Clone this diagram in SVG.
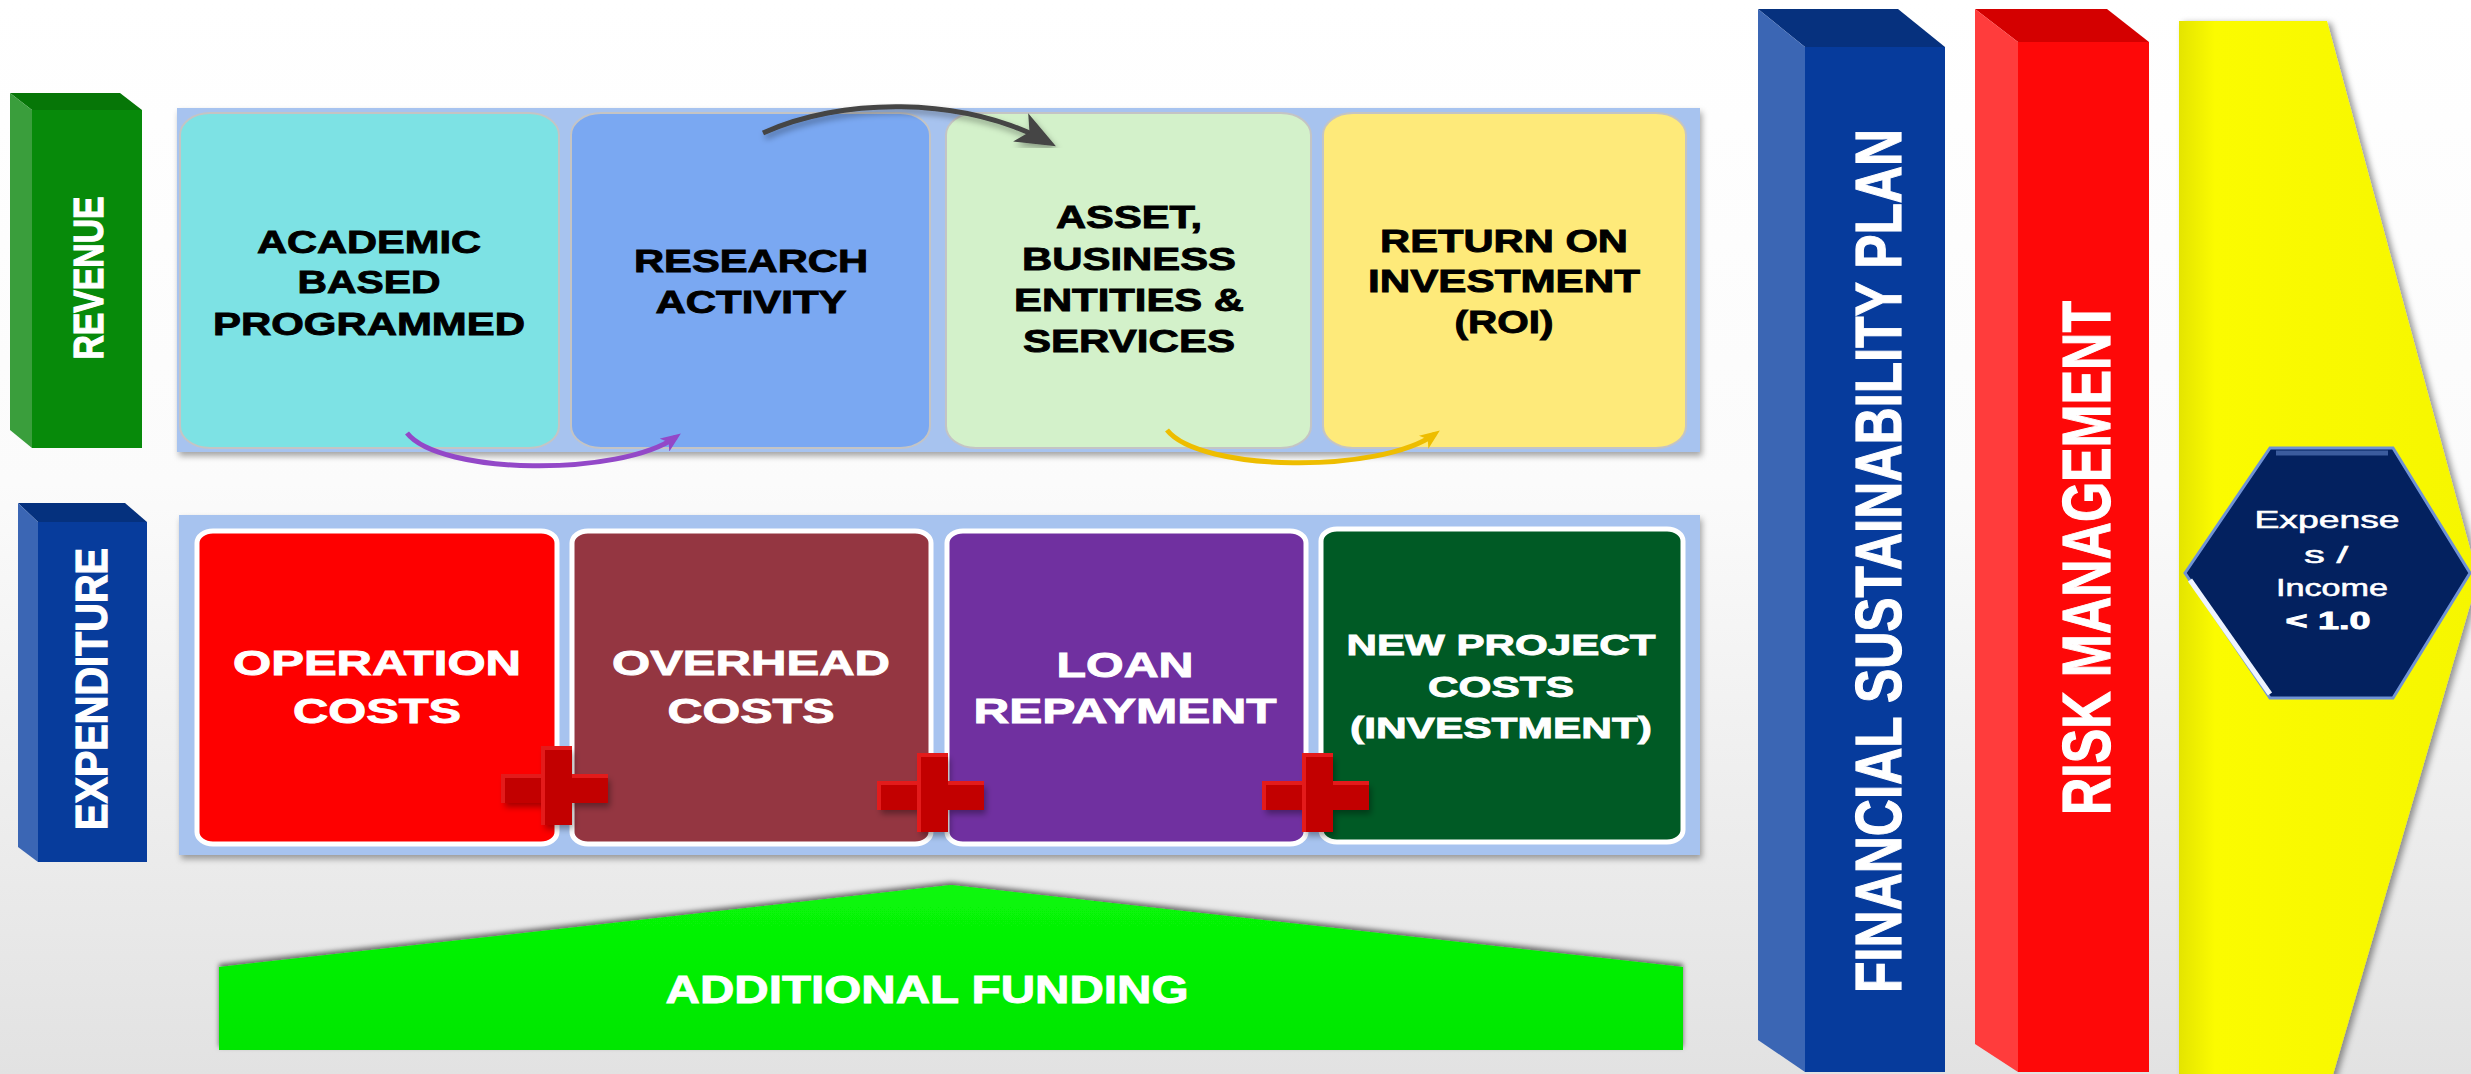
<svg xmlns="http://www.w3.org/2000/svg" width="2471" height="1074" viewBox="0 0 2471 1074">
<style>
.t{font-family:"Liberation Sans",Arial,Helvetica,sans-serif;font-weight:bold;text-anchor:middle}
.blk{fill:#000;stroke:#000;stroke-width:0.9}
.wht{fill:#fff;stroke:#fff;stroke-width:0.9}
.rc{stroke:#c4c4c4;stroke-width:2}
.ec{stroke:#ffffff;stroke-width:5}
.reg{font-weight:normal;stroke-width:0.6}
</style>
<defs>
<linearGradient id="bg" x1="0" y1="0" x2="0" y2="1">
<stop offset="0" stop-color="#ffffff"/>
<stop offset="0.45" stop-color="#fbfbfb"/>
<stop offset="1" stop-color="#e2e2e2"/>
</linearGradient>
<linearGradient id="yel" x1="0" y1="0" x2="1" y2="0">
<stop offset="0" stop-color="#e4e400"/>
<stop offset="0.12" stop-color="#fbfb00"/>
<stop offset="1" stop-color="#f6f600"/>
</linearGradient>
<linearGradient id="grn" x1="0" y1="0" x2="0" y2="1">
<stop offset="0" stop-color="#08f808"/>
<stop offset="1" stop-color="#00e600"/>
</linearGradient>
<filter id="sh" x="-10%" y="-10%" width="120%" height="125%">
<feDropShadow dx="2" dy="4" stdDeviation="3" flood-color="#000" flood-opacity="0.35"/>
</filter>
<filter id="shUp" x="-5%" y="-20%" width="110%" height="140%">
<feDropShadow dx="0" dy="-3" stdDeviation="2.5" flood-color="#000" flood-opacity="0.55"/>
</filter>
<filter id="shR" x="-10%" y="-5%" width="125%" height="110%">
<feDropShadow dx="4" dy="2" stdDeviation="3" flood-color="#000" flood-opacity="0.4"/>
</filter>
<marker id="mPur" viewBox="0 0 20 16" refX="14" refY="8" markerWidth="20" markerHeight="16" orient="auto" markerUnits="userSpaceOnUse">
<path d="M0,0 L20,8 L0,16 L5,8 z" fill="#9348c8"/>
</marker>
<marker id="mYel" viewBox="0 0 20 16" refX="14" refY="8" markerWidth="20" markerHeight="16" orient="auto" markerUnits="userSpaceOnUse">
<path d="M0,0 L20,8 L0,16 L5,8 z" fill="#eebd00"/>
</marker>
<marker id="mGry" viewBox="0 0 40 32" refX="31" refY="16" markerWidth="40" markerHeight="32" orient="auto" markerUnits="userSpaceOnUse">
<path d="M0,0 L40,16 L0,32 L10,16 z" fill="#444"/>
</marker>
<path id="plus" d="M-14,-40 H15 V-12 H51 V15 H15 V37 H-14 V15 H-54 V-12 H-14 Z"/>
</defs>

<rect x="0" y="0" width="2471" height="1074" fill="url(#bg)"/>

<!-- REVENUE side box -->
<g id="revenue-label">
<polygon points="10,93 120,93 142,110 32,110" fill="#067607"/>
<polygon points="10,93 32,110 32,448 10,430" fill="#3a9e3c"/>
<rect x="32" y="110" width="110" height="338" fill="#078a0a"/>
<text class="t wht" font-size="32" textLength="163" lengthAdjust="spacingAndGlyphs" transform="translate(88,278) scale(1.3,1) rotate(-90)" x="0" y="11.5">REVENUE</text>
</g>

<!-- EXPENDITURE side box -->
<g id="expenditure-label">
<polygon points="18,503 125,503 147,522 38,522" fill="#05317e"/>
<polygon points="18,503 38,522 38,862 18,847" fill="#3b66b4"/>
<rect x="38" y="522" width="109" height="340" fill="#073c9c"/>
<text class="t wht" font-size="34" textLength="282" lengthAdjust="spacingAndGlyphs" transform="translate(91,689) scale(1.3,1) rotate(-90)" x="0" y="12.2">EXPENDITURE</text>
</g>

<!-- Revenue panel -->
<g id="revenue-panel">
<rect x="177" y="108" width="1523" height="344" fill="#a7c3ef" filter="url(#sh)"/>
</g>
<g id="academic">
<rect class="rc" x="180" y="113" width="379" height="335" rx="30" ry="22" fill="#7de2e4"/>
<text class="t blk" font-size="32"><tspan x="369" y="253" textLength="224" lengthAdjust="spacingAndGlyphs">ACADEMIC</tspan><tspan x="369" y="293" textLength="143" lengthAdjust="spacingAndGlyphs">BASED</tspan><tspan x="369" y="335" textLength="312" lengthAdjust="spacingAndGlyphs">PROGRAMMED</tspan></text>
</g>
<g id="research">
<rect class="rc" x="571" y="113" width="359" height="335" rx="30" ry="22" fill="#7aa8f2"/>
<text class="t blk" font-size="32"><tspan x="751" y="272" textLength="234" lengthAdjust="spacingAndGlyphs">RESEARCH</tspan><tspan x="751" y="313" textLength="191" lengthAdjust="spacingAndGlyphs">ACTIVITY</tspan></text>
</g>
<g id="asset">
<rect class="rc" x="946" y="113" width="365" height="335" rx="30" ry="22" fill="#d3f1ca"/>
<text class="t blk" font-size="32"><tspan x="1129" y="228" textLength="146" lengthAdjust="spacingAndGlyphs">ASSET,</tspan><tspan x="1129" y="270" textLength="214" lengthAdjust="spacingAndGlyphs">BUSINESS</tspan><tspan x="1129" y="311" textLength="230" lengthAdjust="spacingAndGlyphs">ENTITIES &amp;</tspan><tspan x="1129" y="352" textLength="212" lengthAdjust="spacingAndGlyphs">SERVICES</tspan></text>
</g>
<g id="roi">
<rect class="rc" x="1323" y="113" width="363" height="335" rx="30" ry="22" fill="#feea7a"/>
<text class="t blk" font-size="32"><tspan x="1504" y="252" textLength="248" lengthAdjust="spacingAndGlyphs">RETURN ON</tspan><tspan x="1504" y="292" textLength="272" lengthAdjust="spacingAndGlyphs">INVESTMENT</tspan><tspan x="1504" y="333" textLength="99" lengthAdjust="spacingAndGlyphs">(ROI)</tspan></text>
</g>

<!-- Expenditure panel -->
<g id="expenditure-panel">
<rect x="179" y="515" width="1521" height="340" fill="#a7c3ef" filter="url(#sh)"/>
</g>
<g id="operation">
<rect class="ec" x="197" y="531" width="360" height="313" rx="16" ry="12" fill="#fe0000"/>
<text class="t wht" font-size="35"><tspan x="377" y="675" textLength="288" lengthAdjust="spacingAndGlyphs">OPERATION</tspan><tspan x="377" y="723" textLength="168" lengthAdjust="spacingAndGlyphs">COSTS</tspan></text>
</g>
<g id="overhead">
<rect class="ec" x="572" y="531" width="359" height="313" rx="16" ry="12" fill="#943641"/>
<text class="t wht" font-size="35"><tspan x="751" y="675" textLength="278" lengthAdjust="spacingAndGlyphs">OVERHEAD</tspan><tspan x="751" y="723" textLength="167" lengthAdjust="spacingAndGlyphs">COSTS</tspan></text>
</g>
<g id="loan">
<rect class="ec" x="947" y="531" width="359" height="313" rx="16" ry="12" fill="#7030a0"/>
<text class="t wht" font-size="35"><tspan x="1125" y="677" textLength="137" lengthAdjust="spacingAndGlyphs">LOAN</tspan><tspan x="1125" y="723" textLength="303" lengthAdjust="spacingAndGlyphs">REPAYMENT</tspan></text>
</g>
<g id="newproject">
<rect class="ec" x="1321" y="529" width="362" height="313" rx="16" ry="12" fill="#005a25"/>
<text class="t wht" font-size="30"><tspan x="1501" y="655" textLength="309" lengthAdjust="spacingAndGlyphs">NEW PROJECT</tspan><tspan x="1501" y="697" textLength="146" lengthAdjust="spacingAndGlyphs">COSTS</tspan><tspan x="1501" y="738" textLength="302" lengthAdjust="spacingAndGlyphs">(INVESTMENT)</tspan></text>
</g>

<!-- plus signs -->
<g id="plus1" transform="translate(557,788)">
<use href="#plus" fill="#c20000" filter="url(#sh)"/>
<path d="M-14,37 V-40 H15 M-54,15 V-12 H-14 M15,-12 H51" fill="none" stroke="#e31b1b" stroke-width="4"/>
</g>
<g id="plus2" transform="translate(933,795)">
<use href="#plus" fill="#c20000" filter="url(#sh)"/>
<path d="M-14,37 V-40 H15 M-54,15 V-12 H-14 M15,-12 H51" fill="none" stroke="#e31b1b" stroke-width="4"/>
</g>
<g id="plus3" transform="translate(1318,795)">
<use href="#plus" fill="#c20000" filter="url(#sh)"/>
<path d="M-14,37 V-40 H15 M-54,15 V-12 H-14 M15,-12 H51" fill="none" stroke="#e31b1b" stroke-width="4"/>
</g>

<!-- connectors -->
<g id="connectors" fill="none">
<path d="M407,433 C440,475 620,477 676,437" stroke="#9348c8" stroke-width="5" marker-end="url(#mPur)"/>
<path d="M1167,430 C1200,472 1380,474 1435,434" stroke="#eebd00" stroke-width="5" marker-end="url(#mYel)"/>
<path d="M763,133 C840,98 960,95 1048,142" stroke="#444" stroke-width="5" marker-end="url(#mGry)" filter="url(#sh)"/>
</g>

<!-- Additional funding -->
<g id="additional-funding">
<polygon points="219,1050 219,967 951,885 1683,967 1683,1050" fill="url(#grn)" filter="url(#shUp)"/>
<text class="t wht" font-size="38" x="927" y="1003" textLength="523" lengthAdjust="spacingAndGlyphs">ADDITIONAL FUNDING</text>
</g>

<!-- Financial sustainability plan -->
<g id="financial-sustainability-plan">
<polygon points="1758,9 1898,9 1945,47 1805,47" fill="#06317e"/>
<polygon points="1758,9 1805,47 1805,1072 1758,1040" fill="#3b66b4"/>
<rect x="1805" y="47" width="140" height="1025" fill="#063b9c"/>
<text class="t wht" font-size="50" textLength="864" lengthAdjust="spacingAndGlyphs" transform="translate(1878,561) scale(1.3,1) rotate(-90)" x="0" y="17.9">FINANCIAL SUSTAINABILITY PLAN</text>
</g>

<!-- Risk management -->
<g id="risk-management">
<polygon points="1975,9 2107,9 2149,42 2018,42" fill="#d40000"/>
<polygon points="1975,9 2018,42 2018,1072 1975,1044" fill="#ff3c3c"/>
<rect x="2018" y="42" width="131" height="1030" fill="#fe0808"/>
<text class="t wht" font-size="52" textLength="514" lengthAdjust="spacingAndGlyphs" transform="translate(2086,558) scale(1.3,1) rotate(-90)" x="0" y="18.6">RISK MANAGEMENT</text>
</g>

<!-- Yellow arrow -->
<g id="target-arrow">
<polygon points="2179,21 2327,21 2478,578 2330,1085 2179,1085" fill="url(#yel)" filter="url(#shR)"/>
</g>

<!-- Hexagon -->
<g id="ratio-hexagon">
<polygon points="2185,573 2270,448 2393,448 2470,573 2393,698 2270,698" fill="#03215f" stroke="#6f92d4" stroke-width="3"/>
<line x1="2276" y1="453" x2="2388" y2="453" stroke="#3b5c9e" stroke-width="5"/>
<line x1="2190" y1="580" x2="2270" y2="694" stroke="#eef4ff" stroke-width="5"/>
<text class="t wht reg" font-size="24"><tspan x="2327" y="528" textLength="145" lengthAdjust="spacingAndGlyphs">Expense</tspan><tspan x="2326" y="563" textLength="44" lengthAdjust="spacingAndGlyphs">s /</tspan><tspan x="2332" y="596" textLength="112" lengthAdjust="spacingAndGlyphs">Income</tspan></text>
<text class="t wht" font-size="24" x="2328" y="629" textLength="85" lengthAdjust="spacingAndGlyphs">&lt; 1.0</text>
</g>
</svg>
